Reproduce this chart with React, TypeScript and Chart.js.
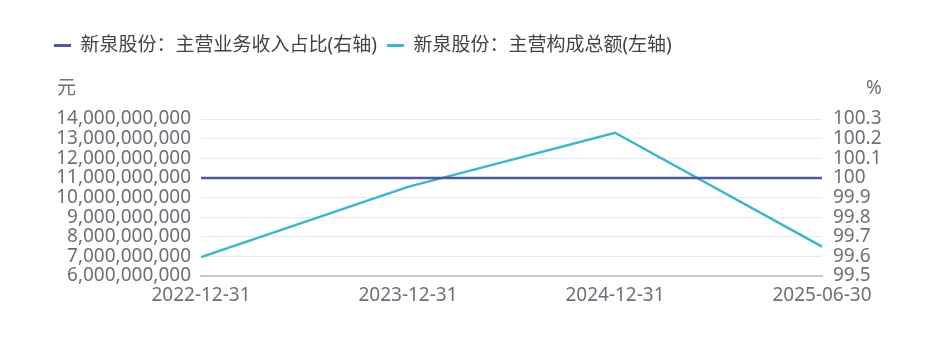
import React, { useEffect, useRef } from "react";
import { Chart, registerables } from "chart.js";

Chart.register(...registerables);

const categories = ["2022-12-31", "2023-12-31", "2024-12-31", "2025-06-30"];
const ratioValues = [100, 100, 100, 100];
const amountValues = [6.96e9, 10.54e9, 13.3e9, 7.5e9];
const seriesNames = ["新泉股份：主营业务收入占比(右轴)", "新泉股份：主营构成总额(左轴)"];
const leftUnit = "元";
const rightUnit = "%";

const FONT = "'Noto Sans', 'Noto Sans CJK SC', sans-serif";
const FS = 19;
const TICK_COLOR = "#6e7079";
const NAVY = "#4d5a9a";
const CYAN = "#3db6ca";

export default function App() {
  const ref = useRef<HTMLCanvasElement | null>(null);
  useEffect(() => {
    if (!ref.current) return;
    const legendSpacer = {
      id: "legendSpacer",
      beforeInit(chart: any) {
        const orig = chart.legend.fit;
        chart.legend.fit = function () {
          orig.bind(chart.legend)();
          this.height = 93;
        };
      },
    };
    const unitTitles = {
      id: "unitTitles",
      afterDraw(chart: any) {
        const ctx = chart.ctx;
        ctx.save();
        ctx.font = `${FS}px ${FONT}`;
        ctx.fillStyle = TICK_COLOR;
        ctx.textBaseline = "middle";
        ctx.textAlign = "left";
        ctx.fillText(leftUnit, 49, 81);
        ctx.fillText(rightUnit, 858, 81);
        ctx.restore();
      },
    };
    const chart = new Chart(ref.current, {
      type: "line",
      data: {
        labels: categories,
        datasets: [
          {
            label: seriesNames[0],
            data: ratioValues,
            yAxisID: "yRight",
            borderColor: NAVY,
            backgroundColor: NAVY,
            borderWidth: 2.5,
            pointRadius: 0,
            tension: 0,
          },
          {
            label: seriesNames[1],
            data: amountValues,
            yAxisID: "yLeft",
            borderColor: CYAN,
            backgroundColor: CYAN,
            borderWidth: 2.5,
            pointRadius: 0,
            tension: 0,
          },
        ],
      },
      options: {
        animation: false,
        responsive: true,
        maintainAspectRatio: false,
        layout: { padding: { top: 18, left: 36, right: 0, bottom: 0 } },
        plugins: {
          tooltip: { enabled: false },
          legend: {
            position: "top",
            align: "start",
            labels: {
              font: { family: FONT, size: FS },
              color: "#444",
              boxWidth: 17,
              boxHeight: 3,
              padding: 10,
              generateLabels(chart: any) {
                return chart.data.datasets.map((d: any, i: number) => ({
                  text: d.label,
                  fillStyle: d.borderColor,
                  strokeStyle: d.borderColor,
                  lineWidth: 0,
                  hidden: false,
                  datasetIndex: i,
                  fontColor: "#444",
                }));
              },
            },
          },
        },
        scales: {
          x: {
            offset: false,
            grid: { display: false, drawTicks: false },
            border: { display: true, color: "#c8c9d9", width: 2 },
            ticks: {
              font: { family: FONT, size: FS },
              color: TICK_COLOR,
              padding: 8,
              maxRotation: 0,
              autoSkip: false,
            },
            afterFit(scale: any) {
              scale.height = 55;
            },
          },
          yLeft: {
            type: "linear",
            position: "left",
            min: 6e9,
            max: 14e9,
            grid: { color: "#e6e9f2", drawTicks: false },
            border: { display: false },
            ticks: {
              stepSize: 1e9,
              autoSkip: false,
              font: { family: FONT, size: FS },
              color: TICK_COLOR,
              padding: 10,
              callback: (v: any) => Number(v).toLocaleString("en-US"),
            },
            afterFit(scale: any) {
              scale.width = 157;
            },
          },
          yRight: {
            type: "linear",
            position: "right",
            min: 99.5,
            max: 100.3,
            grid: { display: false, drawTicks: false },
            border: { display: false },
            ticks: {
              stepSize: 0.1,
              autoSkip: false,
              font: { family: FONT, size: FS },
              color: TICK_COLOR,
              padding: 11,
              callback: (v: any) => String(Math.round(Number(v) * 10) / 10),
            },
            afterFit(scale: any) {
              scale.width = 107;
            },
          },
        },
      },
      plugins: [legendSpacer, unitTitles],
    } as any);
    return () => chart.destroy();
  }, []);
  return (
    <div style={{ width: 921, height: 323, position: "relative" }}>
      <canvas ref={ref} />
    </div>
  );
}
